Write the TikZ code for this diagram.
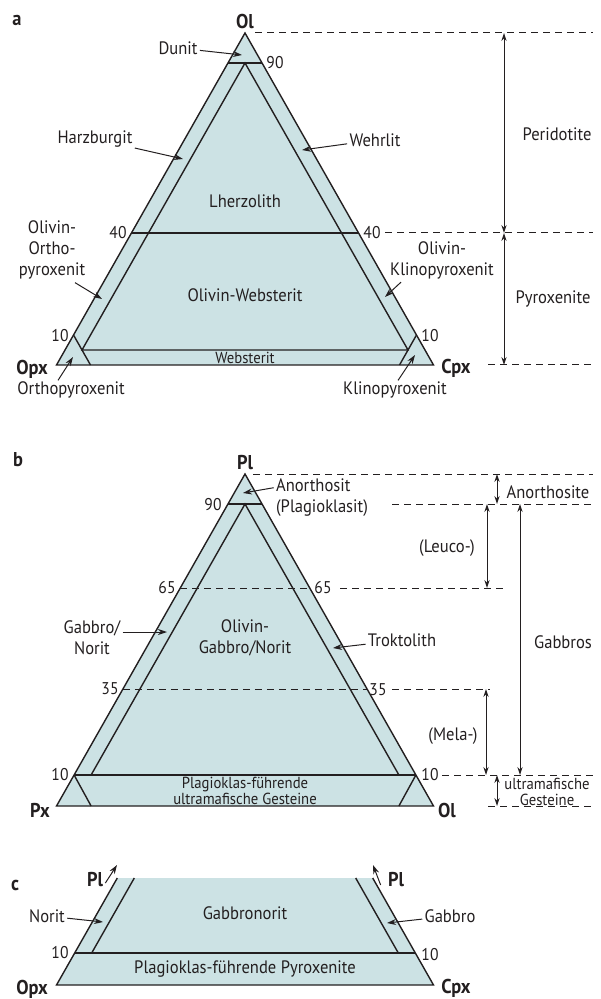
\documentclass[tikz,border=0pt]{standalone}
\usepackage{fontspec}
\setmainfont[FakeStretch=0.92]{PT Sans}
\usetikzlibrary{arrows.meta,calc}
\definecolor{ink}{RGB}{35,31,32}
\definecolor{rock}{RGB}{204,226,228}

\begin{document}
\begin{tikzpicture}[x=0.5pt,y=-0.5pt,
 field/.style={fill=rock,draw=ink,line width=0.7pt},
 edge/.style={draw=ink,line width=0.7pt},
 guide/.style={draw=ink,line width=0.5pt,dash pattern=on 3.5pt off 2.5pt},
 pointer/.style={-{Stealth[length=4.5pt,width=3pt]},draw=ink,line width=0.5pt},
 rangearrow/.style={{Stealth[length=4pt,width=2.6pt]}-{Stealth[length=4pt,width=2.6pt]},draw=ink,line width=0.5pt},
 lbl/.style={text=ink,inner sep=1pt,font=\fontsize{9}{10.5}\selectfont,align=center},
 num/.style={text=ink,inner sep=1pt,font=\fontsize{8.5}{9}\selectfont},
 pole/.style={text=ink,inner sep=1pt,font=\fontsize{10}{12}\selectfont\bfseries},
 tinylbl/.style={text=ink,inner sep=0pt,font=\fontsize{8}{7.6}\selectfont,align=center}]
\useasboundingbox (0,0) rectangle (600,999);

% a: Ol - Opx - Cpx
\draw[field] (245,33) -- (56.5,365) -- (433.5,365) -- cycle;
\draw[edge] (228,63) -- (262,63) (131.4,233) -- (358.6,233);
\draw[edge] (82,350) -- (245,63) -- (408,350) -- cycle;
\draw[edge] (73.5,335) -- (90.5,365) (416.5,335) -- (399.5,365);
\node[pole] (a-tag) at (17,20) {a};
\node[pole] (ol-a) at (245,22) {Ol};
\node[pole] (opx-a) at (32,369) {Opx};
\node[pole] (cpx-a) at (456,368) {Cpx};
\node[num] (n90-a) at (275,63) {90};
\node[num] (n40l-a) at (118,233) {40};
\node[num] (n40r-a) at (372,233) {40};
\node[num] (n10l-a) at (60,336) {10};
\node[num] (n10r-a) at (430,336) {10};
\node[lbl] (lherz) at (245,201) {Lherzolith};
\node[lbl] (olweb) at (245,295) {Olivin-Websterit};
\node[tinylbl] (webst) at (245,357.5) {Websterit};
\node[lbl] (dunit) at (178,48) {Dunit};
\node[lbl] (harz) at (95,139) {Harzburgit};
\node[lbl] (wehrl) at (375,140) {Wehrlit};
\node[lbl] (olopx) at (52,250) {Olivin-\\Ortho-\\pyroxenit};
\node[lbl] (olcpx) at (442,260) {Olivin-\\Klinopyroxenit};
\node[lbl] (orthopx) at (71,390) {Orthopyroxenit};
\node[lbl] (klinopx) at (395,390) {Klinopyroxenit};
\node[lbl] (perid) at (557,134) {Peridotite};
\node[lbl] (pyrox) at (553,299) {Pyroxenite};
\coordinate (dunit-pt) at (242,55); \coordinate (harz-pt) at (183,159); \coordinate (wehrl-pt) at (302,150);
\coordinate (olopx-pt) at (102,299); \coordinate (olcpx-pt) at (385,297);
\coordinate (ortho-pt) at (73,357); \coordinate (klino-pt) at (415,355);
\draw[pointer] (dunit) -- (dunit-pt); \draw[pointer] (harz) -- (harz-pt); \draw[pointer] (wehrl) -- (wehrl-pt);
\draw[pointer] ($(olopx.south)+(23,1)$) -- (olopx-pt); \draw[pointer] ($(olcpx.south)+(-41,1)$) -- (olcpx-pt);
\draw[pointer] ($(orthopx.north)+(-13,1)$) -- (ortho-pt); \draw[pointer] ($(klinopx.north)+(3,1)$) -- (klino-pt);
\draw[guide] (255,33) -- (593,33) (385,233) -- (593,233) (488,365) -- (593,365);
\coordinate (per-top) at (504,33); \coordinate (per-bot) at (504,233); \coordinate (pyx-bot) at (504,365);
\draw[rangearrow] (per-top) -- (per-bot); \draw[rangearrow] (per-bot) -- (pyx-bot);

% b: Pl - Px - Ol
\draw[field] (245,474) -- (56.5,806) -- (433.5,806) -- cycle;
\draw[edge] (228,504) -- (262,504) (74.1,775) -- (415.9,775);
\draw[edge] (91.1,775) -- (245,504) -- (398.9,775);
\draw[edge] (74.1,775) -- (91.1,806) (415.9,775) -- (398.9,806);
\draw[guide] (180.3,588) -- (309.7,588) (122.9,689) -- (367.1,689);
\node[pole] (b-tag) at (18,460) {b};
\node[pole] (pl-b) at (245,463) {Pl};
\node[pole] (px-b) at (40,810) {Px};
\node[pole] (ol-b) at (447,810) {Ol};
\node[num] (n90-b) at (213,505) {90};
\node[num] (n65l-b) at (167,588) {65};
\node[num] (n65r-b) at (323,588) {65};
\node[num] (n35l-b) at (110,689) {35};
\node[num] (n35r-b) at (378,690) {35};
\node[num] (n10l-b) at (60,775) {10};
\node[num] (n10r-b) at (430,775) {10};
\node[lbl,align=left] (anor) at (322,498) {Anorthosit\\(Plagioklasit)};
\node[lbl] (gabnor) at (92,638) {Gabbro/\\Norit};
\node[lbl] (olgab) at (245,638) {Olivin-\\Gabbro/Norit};
\node[lbl] (trokt) at (402,640) {Troktolith};
\node[tinylbl] (plum) at (245,791) {Plagioklas-führende\\ultramafische Gesteine};
\node[lbl] (anort) at (548,492) {Anorthosite};
\node[lbl] (leuco) at (447,548) {(Leuco-)};
\node[lbl] (gabbros) at (563,642) {Gabbros};
\node[lbl] (mela) at (453,736) {(Mela-)};
\node[tinylbl] (umaf) at (547,792) {ultramafische\\Gesteine};
\coordinate (anor-pt) at (243,493); \coordinate (gabnor-pt) at (167,632); \coordinate (trokt-pt) at (333,648);
\draw[pointer] ($(anor.north west)+(0,11)$) -- (anor-pt);
\draw[pointer] ($(gabnor.east)+(0,-6)$) -- (gabnor-pt);
\draw[pointer] (trokt) -- (trokt-pt);
\draw[guide] (253,474) -- (593,474) (392,504) -- (593,504) (340,588) -- (503,588);
\draw[guide] (392,689) -- (490,689) (442,775) -- (593,775) (488,806) -- (593,806);
\coordinate (an-top) at (497,474); \coordinate (an-bot) at (497,504);
\coordinate (le-top) at (487,504); \coordinate (le-bot) at (487,588);
\coordinate (gb-top) at (520,504); \coordinate (gb-bot) at (520,775);
\coordinate (me-top) at (486,689); \coordinate (me-bot) at (486,775);
\coordinate (um-top) at (497,775); \coordinate (um-bot) at (497,806);
\draw[rangearrow] (an-top) -- (an-bot); \draw[rangearrow] (le-top) -- (le-bot); \draw[rangearrow] (gb-top) -- (gb-bot);
\draw[rangearrow] (me-top) -- (me-bot); \draw[rangearrow] (um-top) -- (um-bot);

% c: Opx - Cpx (Pl)
\fill[rock] (117.3,878) -- (372.7,878) -- (433.5,985) -- (56.5,985) -- cycle;
\draw[edge] (117.3,878) -- (56.5,985) -- (433.5,985) -- (372.7,878);
\draw[edge] (74.7,953) -- (415.3,953);
\draw[edge] (134.3,878) -- (91.7,953) (355.7,878) -- (398.3,953);
\node[pole] (c-tag) at (15,885) {c};
\node[pole] (pl-cl) at (95,880) {Pl};
\node[pole] (pl-cr) at (396,880) {Pl};
\node[pole] (opx-c) at (32,989) {Opx};
\node[pole] (cpx-c) at (456,988) {Cpx};
\node[num] (n10l-c) at (60,953) {10};
\node[num] (n10r-c) at (430,955) {10};
\node[lbl] (gabbronor) at (245,913) {Gabbronorit};
\node[lbl] (plpyx) at (245,969) {Plagioklas-führende Pyroxenite};
\node[lbl] (norit) at (47,916) {Norit};
\node[lbl] (gabbro) at (450,916) {Gabbro};
\coordinate (norit-pt) at (103,922); \coordinate (gabbro-pt) at (387,923);
\coordinate (pl-cl-pt) at (117,865); \coordinate (pl-cr-pt) at (373,865);
\draw[pointer] (norit) -- (norit-pt); \draw[pointer] (gabbro) -- (gabbro-pt);
\draw[pointer] ($(pl-cl.east)+(0,3)$) -- (pl-cl-pt); \draw[pointer] ($(pl-cr.west)+(-5,5)$) -- (pl-cr-pt);
\end{tikzpicture}
\end{document}
